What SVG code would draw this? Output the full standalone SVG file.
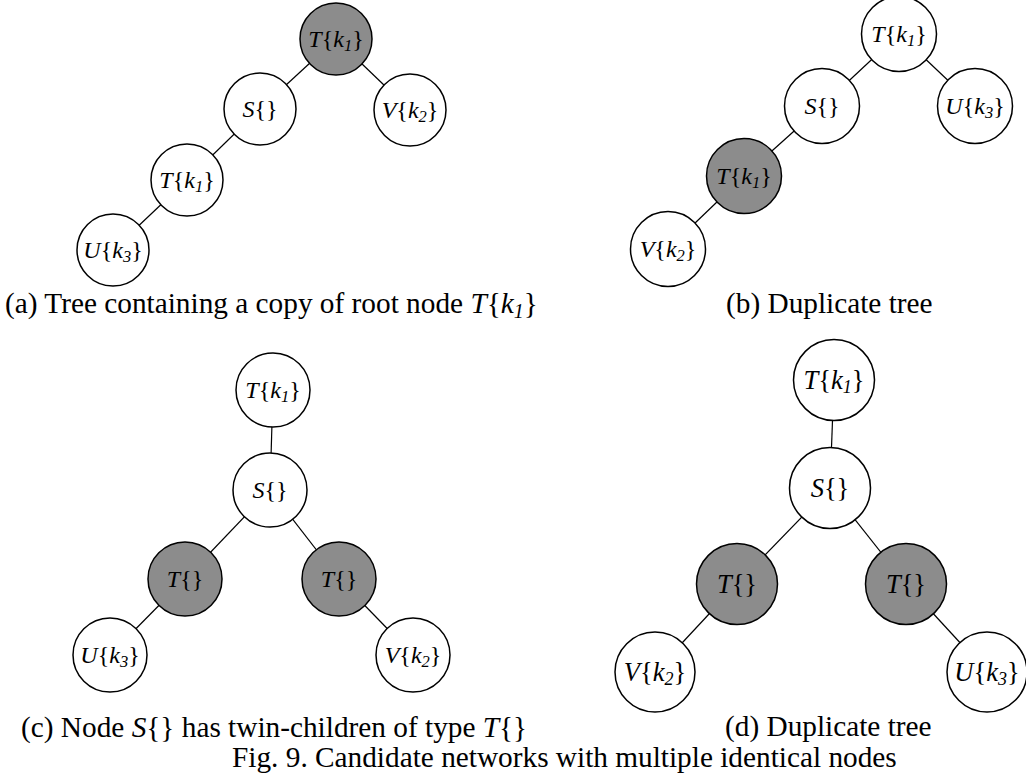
<svg xmlns="http://www.w3.org/2000/svg" width="1026" height="777" viewBox="0 0 1026 777">
  <style>
    .edge { stroke: #000; stroke-width: 1.2; fill: none; }
    .node { fill: #fff; stroke: #000; stroke-width: 1.5; }
    .node.hl { fill: #8c8c8c; }
    .lbl { font-family: "Liberation Serif", "Times New Roman", serif; font-size: 24px; text-anchor: middle; fill: #000; }
    .lbl.big { font-size: 26.5px; }
    .it { font-style: italic; }
    .sub { font-size: 16.5px; font-style: italic; }
    .big .sub { font-size: 18px; }
    .cap { font-family: "Liberation Serif", "Times New Roman", serif; font-size: 29.3px; fill: #000; }
  </style>
  <rect width="1026" height="777" fill="#fff"/>

  <!-- tree edges -->
  <g id="connectors">
    <!-- (a) -->
    <line class="edge" x1="336" y1="39" x2="260" y2="109"/>
    <line class="edge" x1="336" y1="39" x2="410" y2="110"/>
    <line class="edge" x1="260" y1="109" x2="187" y2="180"/>
    <line class="edge" x1="187" y1="180" x2="113" y2="250"/>
    <!-- (b) -->
    <line class="edge" x1="899" y1="34" x2="822" y2="106"/>
    <line class="edge" x1="899" y1="34" x2="975" y2="106"/>
    <line class="edge" x1="822" y1="106" x2="744" y2="176"/>
    <line class="edge" x1="744" y1="176" x2="668" y2="249"/>
    <!-- (c) -->
    <line class="edge" x1="273" y1="390" x2="270" y2="490"/>
    <line class="edge" x1="270" y1="490" x2="185" y2="579"/>
    <line class="edge" x1="270" y1="490" x2="339" y2="579"/>
    <line class="edge" x1="185" y1="579" x2="110" y2="655"/>
    <line class="edge" x1="339" y1="579" x2="413" y2="655"/>
    <!-- (d) -->
    <line class="edge" x1="834" y1="380" x2="830" y2="488"/>
    <line class="edge" x1="830" y1="488" x2="737" y2="584"/>
    <line class="edge" x1="830" y1="488" x2="906" y2="584"/>
    <line class="edge" x1="737" y1="584" x2="655" y2="672"/>
    <line class="edge" x1="906" y1="584" x2="987" y2="672"/>
  </g>

  <!-- (a) tree containing a copy of the root -->
  <g id="a-root">
    <circle class="node hl" cx="336" cy="39" r="36"/>
    <text class="lbl" x="336" y="47"><tspan class="it">T</tspan>{<tspan class="it">k</tspan><tspan class="sub" dy="4">1</tspan><tspan dy="-4">}</tspan></text>
  </g>
  <g id="a-s">
    <circle class="node" cx="260" cy="109" r="36"/>
    <text class="lbl" x="260" y="117"><tspan class="it">S</tspan>{}</text>
  </g>
  <g id="a-v">
    <circle class="node" cx="410" cy="110" r="36"/>
    <text class="lbl" x="410" y="118"><tspan class="it">V</tspan>{<tspan class="it">k</tspan><tspan class="sub" dy="4">2</tspan><tspan dy="-4">}</tspan></text>
  </g>
  <g id="a-t">
    <circle class="node" cx="187" cy="180" r="36"/>
    <text class="lbl" x="187" y="188"><tspan class="it">T</tspan>{<tspan class="it">k</tspan><tspan class="sub" dy="4">1</tspan><tspan dy="-4">}</tspan></text>
  </g>
  <g id="a-u">
    <circle class="node" cx="113" cy="250" r="36"/>
    <text class="lbl" x="113" y="258"><tspan class="it">U</tspan>{<tspan class="it">k</tspan><tspan class="sub" dy="4">3</tspan><tspan dy="-4">}</tspan></text>
  </g>

  <!-- (b) duplicate tree -->
  <g id="b-root">
    <circle class="node" cx="899" cy="34" r="37.5"/>
    <text class="lbl" x="899" y="42"><tspan class="it">T</tspan>{<tspan class="it">k</tspan><tspan class="sub" dy="4">1</tspan><tspan dy="-4">}</tspan></text>
  </g>
  <g id="b-s">
    <circle class="node" cx="822" cy="106" r="37.5"/>
    <text class="lbl" x="822" y="114"><tspan class="it">S</tspan>{}</text>
  </g>
  <g id="b-u">
    <circle class="node" cx="975" cy="106" r="37.5"/>
    <text class="lbl" x="975" y="114"><tspan class="it">U</tspan>{<tspan class="it">k</tspan><tspan class="sub" dy="4">3</tspan><tspan dy="-4">}</tspan></text>
  </g>
  <g id="b-t">
    <circle class="node hl" cx="744" cy="176" r="37.5"/>
    <text class="lbl" x="744" y="184"><tspan class="it">T</tspan>{<tspan class="it">k</tspan><tspan class="sub" dy="4">1</tspan><tspan dy="-4">}</tspan></text>
  </g>
  <g id="b-v">
    <circle class="node" cx="668" cy="249" r="37.5"/>
    <text class="lbl" x="668" y="257"><tspan class="it">V</tspan>{<tspan class="it">k</tspan><tspan class="sub" dy="4">2</tspan><tspan dy="-4">}</tspan></text>
  </g>

  <!-- (c) twin children -->
  <g id="c-root">
    <circle class="node" cx="273" cy="390" r="37"/>
    <text class="lbl" x="273" y="398"><tspan class="it">T</tspan>{<tspan class="it">k</tspan><tspan class="sub" dy="4">1</tspan><tspan dy="-4">}</tspan></text>
  </g>
  <g id="c-s">
    <circle class="node" cx="270" cy="490" r="37"/>
    <text class="lbl" x="270" y="498"><tspan class="it">S</tspan>{}</text>
  </g>
  <g id="c-t1">
    <circle class="node hl" cx="185" cy="579" r="37"/>
    <text class="lbl" x="185" y="587"><tspan class="it">T</tspan>{}</text>
  </g>
  <g id="c-t2">
    <circle class="node hl" cx="339" cy="579" r="37"/>
    <text class="lbl" x="339" y="587"><tspan class="it">T</tspan>{}</text>
  </g>
  <g id="c-u">
    <circle class="node" cx="110" cy="655" r="37"/>
    <text class="lbl" x="110" y="663"><tspan class="it">U</tspan>{<tspan class="it">k</tspan><tspan class="sub" dy="4">3</tspan><tspan dy="-4">}</tspan></text>
  </g>
  <g id="c-v">
    <circle class="node" cx="413" cy="655" r="37"/>
    <text class="lbl" x="413" y="663"><tspan class="it">V</tspan>{<tspan class="it">k</tspan><tspan class="sub" dy="4">2</tspan><tspan dy="-4">}</tspan></text>
  </g>

  <!-- (d) duplicate tree -->
  <g id="d-root">
    <circle class="node" cx="834" cy="380" r="40.5"/>
    <text class="lbl big" x="834" y="389"><tspan class="it">T</tspan>{<tspan class="it">k</tspan><tspan class="sub" dy="4">1</tspan><tspan dy="-4">}</tspan></text>
  </g>
  <g id="d-s">
    <circle class="node" cx="830" cy="488" r="40.5"/>
    <text class="lbl big" x="830" y="497"><tspan class="it">S</tspan>{}</text>
  </g>
  <g id="d-t1">
    <circle class="node hl" cx="737" cy="584" r="40.5"/>
    <text class="lbl big" x="737" y="593"><tspan class="it">T</tspan>{}</text>
  </g>
  <g id="d-t2">
    <circle class="node hl" cx="906" cy="584" r="40.5"/>
    <text class="lbl big" x="906" y="593"><tspan class="it">T</tspan>{}</text>
  </g>
  <g id="d-v">
    <circle class="node" cx="655" cy="672" r="40"/>
    <text class="lbl big" x="655" y="681"><tspan class="it">V</tspan>{<tspan class="it">k</tspan><tspan class="sub" dy="4">2</tspan><tspan dy="-4">}</tspan></text>
  </g>
  <g id="d-u">
    <circle class="node" cx="987" cy="672" r="40"/>
    <text class="lbl big" x="987" y="681"><tspan class="it">U</tspan>{<tspan class="it">k</tspan><tspan class="sub" dy="4">3</tspan><tspan dy="-4">}</tspan></text>
  </g>

  <!-- captions -->
  <g id="captions">
    <text class="cap" x="5" y="313">(a) Tree containing a copy of root node <tspan class="it">T</tspan>{<tspan class="it">k</tspan><tspan class="it" font-size="20" dy="5">1</tspan><tspan dy="-5">}</tspan></text>
    <text class="cap" x="726" y="313">(b) Duplicate tree</text>
    <text class="cap" x="21" y="737">(c) Node <tspan class="it">S</tspan>{} has twin-children of type <tspan class="it">T</tspan>{}</text>
    <text class="cap" x="725" y="736">(d) Duplicate tree</text>
    <text class="cap" x="232" y="767">Fig. 9. Candidate networks with multiple identical nodes</text>
  </g>
</svg>
